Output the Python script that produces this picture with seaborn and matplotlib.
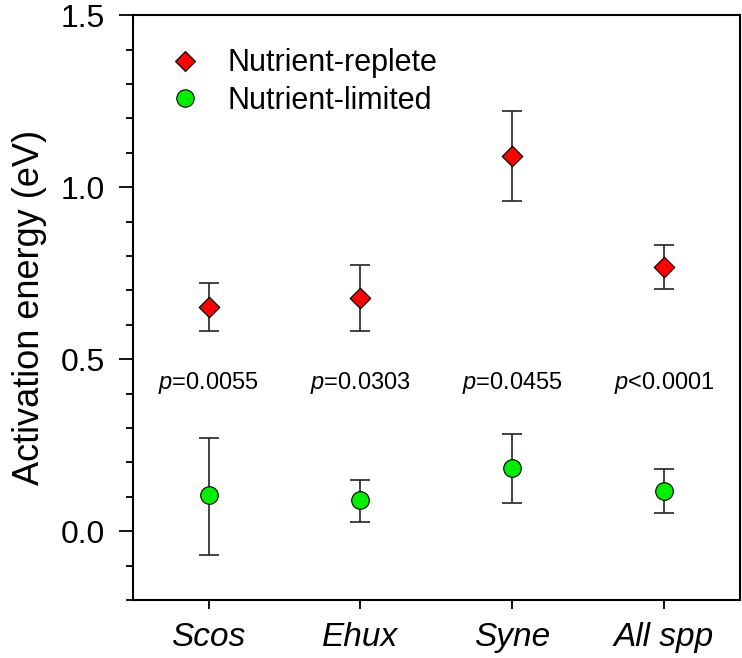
import numpy as np
import pandas as pd
import matplotlib
matplotlib.use('Agg')
import matplotlib.pyplot as plt
from matplotlib.lines import Line2D
from matplotlib.ticker import MultipleLocator, FormatStrFormatter
import seaborn as sns

species = ['Scos', 'Ehux', 'Syne', 'All spp']
p_labels = ['=0.0055', '=0.0303', '=0.0455', '<0.0001']

# Nutrient-replete: mean, lower and upper bounds of error bar
replete = [0.651, 0.677, 1.090, 0.768]
replete_lo = [0.581, 0.581, 0.959, 0.704]
replete_hi = [0.722, 0.773, 1.222, 0.833]

# Nutrient-limited
limited = [0.105, 0.090, 0.183, 0.118]
limited_lo = [-0.069, 0.026, 0.081, 0.053]
limited_hi = [0.271, 0.150, 0.283, 0.180]

sns.set_style('ticks')
plt.rcParams['font.family'] = ['Liberation Sans', 'DejaVu Sans']
plt.rcParams['mathtext.fontset'] = 'custom'
plt.rcParams['mathtext.it'] = 'Liberation Sans:italic'
plt.rcParams['mathtext.rm'] = 'Liberation Sans'
plt.rcParams['text.color'] = 'black'
plt.rcParams['axes.labelcolor'] = 'black'
plt.rcParams['xtick.color'] = 'black'
plt.rcParams['ytick.color'] = 'black'

df_rep = pd.DataFrame({'species': species, 'energy': replete, 'lo': replete_lo, 'hi': replete_hi})
df_lim = pd.DataFrame({'species': species, 'energy': limited, 'lo': limited_lo, 'hi': limited_hi})

fig = plt.figure(figsize=(7.42, 6.58), dpi=100)
ax = fig.add_axes([0.179, 0.088, 0.818, 0.889])

for d in (df_rep, df_lim):
    ax.errorbar(d['species'], d['energy'],
                yerr=[d['energy'] - d['lo'], d['hi'] - d['energy']],
                fmt='none', ecolor='#222222', elinewidth=1.2, capsize=7, capthick=1.2, zorder=2)

sns.scatterplot(data=df_rep, x='species', y='energy', marker='D', color='#ff0000',
                edgecolor='black', linewidth=0.8, s=110, zorder=3, ax=ax)
sns.scatterplot(data=df_lim, x='species', y='energy', marker='o', color='#00ee00',
                edgecolor='black', linewidth=0.8, s=160, zorder=3, ax=ax)

for i, lab in enumerate(p_labels):
    ax.text(i, 0.43, r'$\it{p}$' + lab, ha='center', va='center', fontsize=17, color='black')

ax.set_xlim(-0.5, 3.5)
ax.set_ylim(-0.2, 1.5)
ax.yaxis.set_major_locator(MultipleLocator(0.5))
ax.yaxis.set_minor_locator(MultipleLocator(0.1))
ax.yaxis.set_major_formatter(FormatStrFormatter('%.1f'))
ax.tick_params(axis='y', which='major', length=10, width=1.3, labelsize=23, pad=10,
               direction='out', colors='black')
ax.tick_params(axis='y', which='minor', length=5, width=1.3, direction='out', colors='black')
ax.tick_params(axis='x', which='major', length=6.5, width=1.3, labelsize=24, pad=9,
               direction='out', colors='black')
for t in ax.get_xticklabels():
    t.set_fontstyle('italic')

ax.set_xlabel('')
ax.set_ylabel('Activation energy (eV)', fontsize=26, labelpad=10, color='black')

for sp in ax.spines.values():
    sp.set_linewidth(1.5)
    sp.set_color('black')

handles = [
    Line2D([], [], linestyle='none', marker='D', markersize=10.5, markerfacecolor='#ff0000',
           markeredgecolor='black', markeredgewidth=0.8),
    Line2D([], [], linestyle='none', marker='o', markersize=12.5, markerfacecolor='#00ee00',
           markeredgecolor='black', markeredgewidth=0.8),
]
leg = ax.legend(handles, ['Nutrient-replete', 'Nutrient-limited'], loc='upper left',
                bbox_to_anchor=(0.0, 0.99), frameon=False, fontsize=22,
                handletextpad=0.6, labelspacing=0.25, handlelength=1.6)
for t in leg.get_texts():
    t.set_color('black')

fig.savefig('out.png', dpi=100)
